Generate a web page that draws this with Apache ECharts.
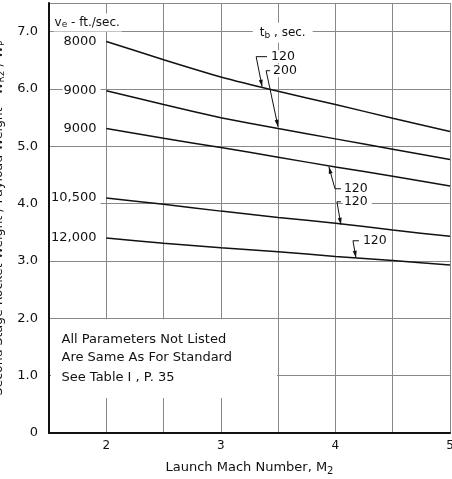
<!DOCTYPE html>
<html>
<head>
<meta charset="utf-8">
<script src="https://cdn.jsdelivr.net/npm/echarts@6/dist/echarts.min.js"></script>
<style>
  html, body { margin: 0; padding: 0; background: #fff; }
  #main { width: 452px; height: 479px; }
</style>
</head>
<body>
<div id="main"></div>
<script>
// launch mach number (x) and the five weight-ratio curves
const machNumbers = [2, 2.5, 3, 3.5, 4, 4.5, 5];
const ve8000 = [6.83, 6.51, 6.21, 5.96, 5.73, 5.49, 5.26];
const ve9000a = [5.97, 5.73, 5.50, 5.31, 5.13, 4.95, 4.77];
const ve9000b = [5.31, 5.14, 4.98, 4.81, 4.64, 4.48, 4.31];
const ve10500 = [4.10, 3.99, 3.87, 3.76, 3.66, 3.54, 3.43];
const ve12000 = [3.40, 3.31, 3.23, 3.16, 3.08, 3.01, 2.93];
const curveLabels = ['8000', '9000', '9000', '10,500', '12,000'];
const curves = [ve8000, ve9000a, ve9000b, ve10500, ve12000];

// burn time call-outs: text, text anchor, leader points (data coords)
const burnTimes = [
  { text: '120', at: [3.429, 6.564], leader: [[3.403, 6.564], [3.308, 6.564], [3.360, 6.04]] },
  { text: '200', at: [3.447, 6.319], leader: [[3.429, 6.319], [3.395, 6.319], [3.499, 5.342]] },
  { text: '120', at: [4.065, 4.260], leader: [[4.048, 4.260], [3.996, 4.260], [3.943, 4.644]] },
  { text: '120', at: [4.065, 4.033], leader: [[4.048, 4.033], [4.013, 4.033], [4.048, 3.632]] },
  { text: '120', at: [4.231, 3.353], leader: [[4.205, 3.353], [4.153, 3.353], [4.179, 3.056]] }
];
const noteLines = ['All Parameters Not Listed', 'Are Same As For Standard', 'See Table I , P. 35'];
const noteY = [1.625, 1.31, 0.96];

const FONT = 'DejaVu Sans';
const chart = echarts.init(document.getElementById('main'), null, { renderer: 'canvas' });

const option = {
  animation: false,
  backgroundColor: '#fff',
  textStyle: { fontFamily: FONT, color: '#111' },
  grid: { left: 49, right: 2, top: 3, bottom: 46, containLabel: false, outerBoundsMode: 'none' },
  xAxis: {
    type: 'value',
    min: 1.5,
    max: 5,
    interval: 0.5,
    name: 'Launch Mach Number, M{sub|2}',
    nameLocation: 'middle',
    nameGap: 26,
    nameTextStyle: {
      fontFamily: FONT, fontSize: 13, color: '#111',
      rich: { sub: { fontFamily: FONT, fontSize: 10, color: '#111', padding: [7, 0, 0, 0] } }
    },
    axisLine: { show: true, onZero: false, lineStyle: { color: '#111', width: 2 } },
    axisTick: { show: false },
    axisLabel: {
      fontSize: 12, color: '#111', margin: 7,
      formatter: v => (Number.isInteger(v) ? String(v) : '')
    },
    splitLine: { show: true, lineStyle: { color: '#888', width: 1 } }
  },
  yAxis: {
    type: 'value',
    min: 0,
    max: 7.5,
    interval: 1,
    name: 'Second Stage Rocket Weight / Payload Weight - W{sub|R2} / W{sub|P}',
    nameLocation: 'middle',
    nameGap: 42,
    nameTextStyle: {
      fontFamily: FONT, fontSize: 12.5, color: '#111',
      rich: { sub: { fontFamily: FONT, fontSize: 9, color: '#111', padding: [6, 0, 0, 0] } }
    },
    axisLine: { show: true, onZero: false, lineStyle: { color: '#111', width: 2 } },
    axisTick: { show: false },
    axisLabel: {
      fontSize: 13, color: '#111', margin: 11,
      formatter: v => (v === 0 ? '0' : (Number.isInteger(v) ? v.toFixed(1) : ''))
    },
    splitLine: { show: true, lineStyle: { color: '#888', width: 1 } }
  },
  series: curves.map((vals, i) => ({
    name: curveLabels[i],
    type: 'line',
    data: machNumbers.map((m, j) => [m, vals[j]]),
    smooth: 0.15,
    symbol: 'none',
    z: 4,
    lineStyle: { color: '#111', width: 1.5 }
  }))
};
chart.setOption(option);

function px(p) {
  return chart.convertToPixel({ gridIndex: 0 }, p);
}

function buildGraphics() {
  const els = [];
  // white patch behind the note, hides grid there
  const a = px([1.5, 1.985]);
  const b = px([3.49, 0.61]);
  els.push({
    type: 'rect', z: 1, silent: true,
    shape: { x: a[0] + 2, y: a[1], width: b[0] - a[0] - 2, height: b[1] - a[1] },
    style: { fill: '#fff' }
  });
  noteLines.forEach((t, i) => {
    const p = px([1.609, noteY[i]]);
    els.push({
      type: 'text', z: 5, x: p[0], y: p[1],
      style: { text: t, font: '13px ' + FONT, fill: '#111', verticalAlign: 'middle' }
    });
  });

  // curve labels on the left, level with the curve start
  curves.forEach((vals, i) => {
    const p = px([1.95, vals[0]]);
    els.push({
      type: 'text', z: 5, x: p[0], y: p[1],
      style: {
        text: curveLabels[i], font: '13px ' + FONT, fill: '#111',
        align: 'right', verticalAlign: 'middle',
        backgroundColor: '#fff', padding: [1, 4, 1, 1]
      }
    });
  });

  // v_e heading
  const h = px([1.54, 7.16]);
  els.push({
    type: 'text', z: 5, x: h[0], y: h[1],
    style: {
      text: 'v{sub|e} - ft./sec.', font: '12px ' + FONT, fill: '#111',
      verticalAlign: 'middle', backgroundColor: '#fff', padding: [2, 2, 2, 1],
      rich: { sub: { font: '9px ' + FONT, fill: '#111', padding: [5, 0, 0, 0] } }
    }
  });
  // t_b heading
  const t = px([3.54, 6.98]);
  els.push({
    type: 'text', z: 5, x: t[0], y: t[1],
    style: {
      text: 't{sub|b} , sec.', font: '12px ' + FONT, fill: '#111',
      align: 'center', verticalAlign: 'middle', backgroundColor: '#fff', padding: [3, 7, 3, 7],
      rich: { sub: { font: '9px ' + FONT, fill: '#111', padding: [5, 0, 0, 0] } }
    }
  });

  // burn-time call-outs with leaders and arrowheads
  burnTimes.forEach(c => {
    const p = px(c.at);
    els.push({
      type: 'text', z: 5, x: p[0], y: p[1],
      style: {
        text: c.text, font: '12.5px ' + FONT, fill: '#111',
        verticalAlign: 'middle', backgroundColor: '#fff', padding: [0, 4, 0, 1]
      }
    });
    const pts = c.leader.map(px);
    els.push({
      type: 'polyline', z: 6, silent: true,
      shape: { points: pts },
      style: { stroke: '#111', lineWidth: 1, fill: null }
    });
    const e = pts[pts.length - 1];
    const s = pts[pts.length - 2];
    const ang = Math.atan2(e[1] - s[1], e[0] - s[0]);
    const len = 7, wid = 2;
    const bx = e[0] - len * Math.cos(ang), by = e[1] - len * Math.sin(ang);
    els.push({
      type: 'polygon', z: 6, silent: true,
      shape: {
        points: [
          e,
          [bx + wid * Math.sin(ang), by - wid * Math.cos(ang)],
          [bx - wid * Math.sin(ang), by + wid * Math.cos(ang)]
        ]
      },
      style: { fill: '#111' }
    });
  });
  return els;
}

chart.setOption({ graphic: { elements: buildGraphics() } });
</script>
</body>
</html>
